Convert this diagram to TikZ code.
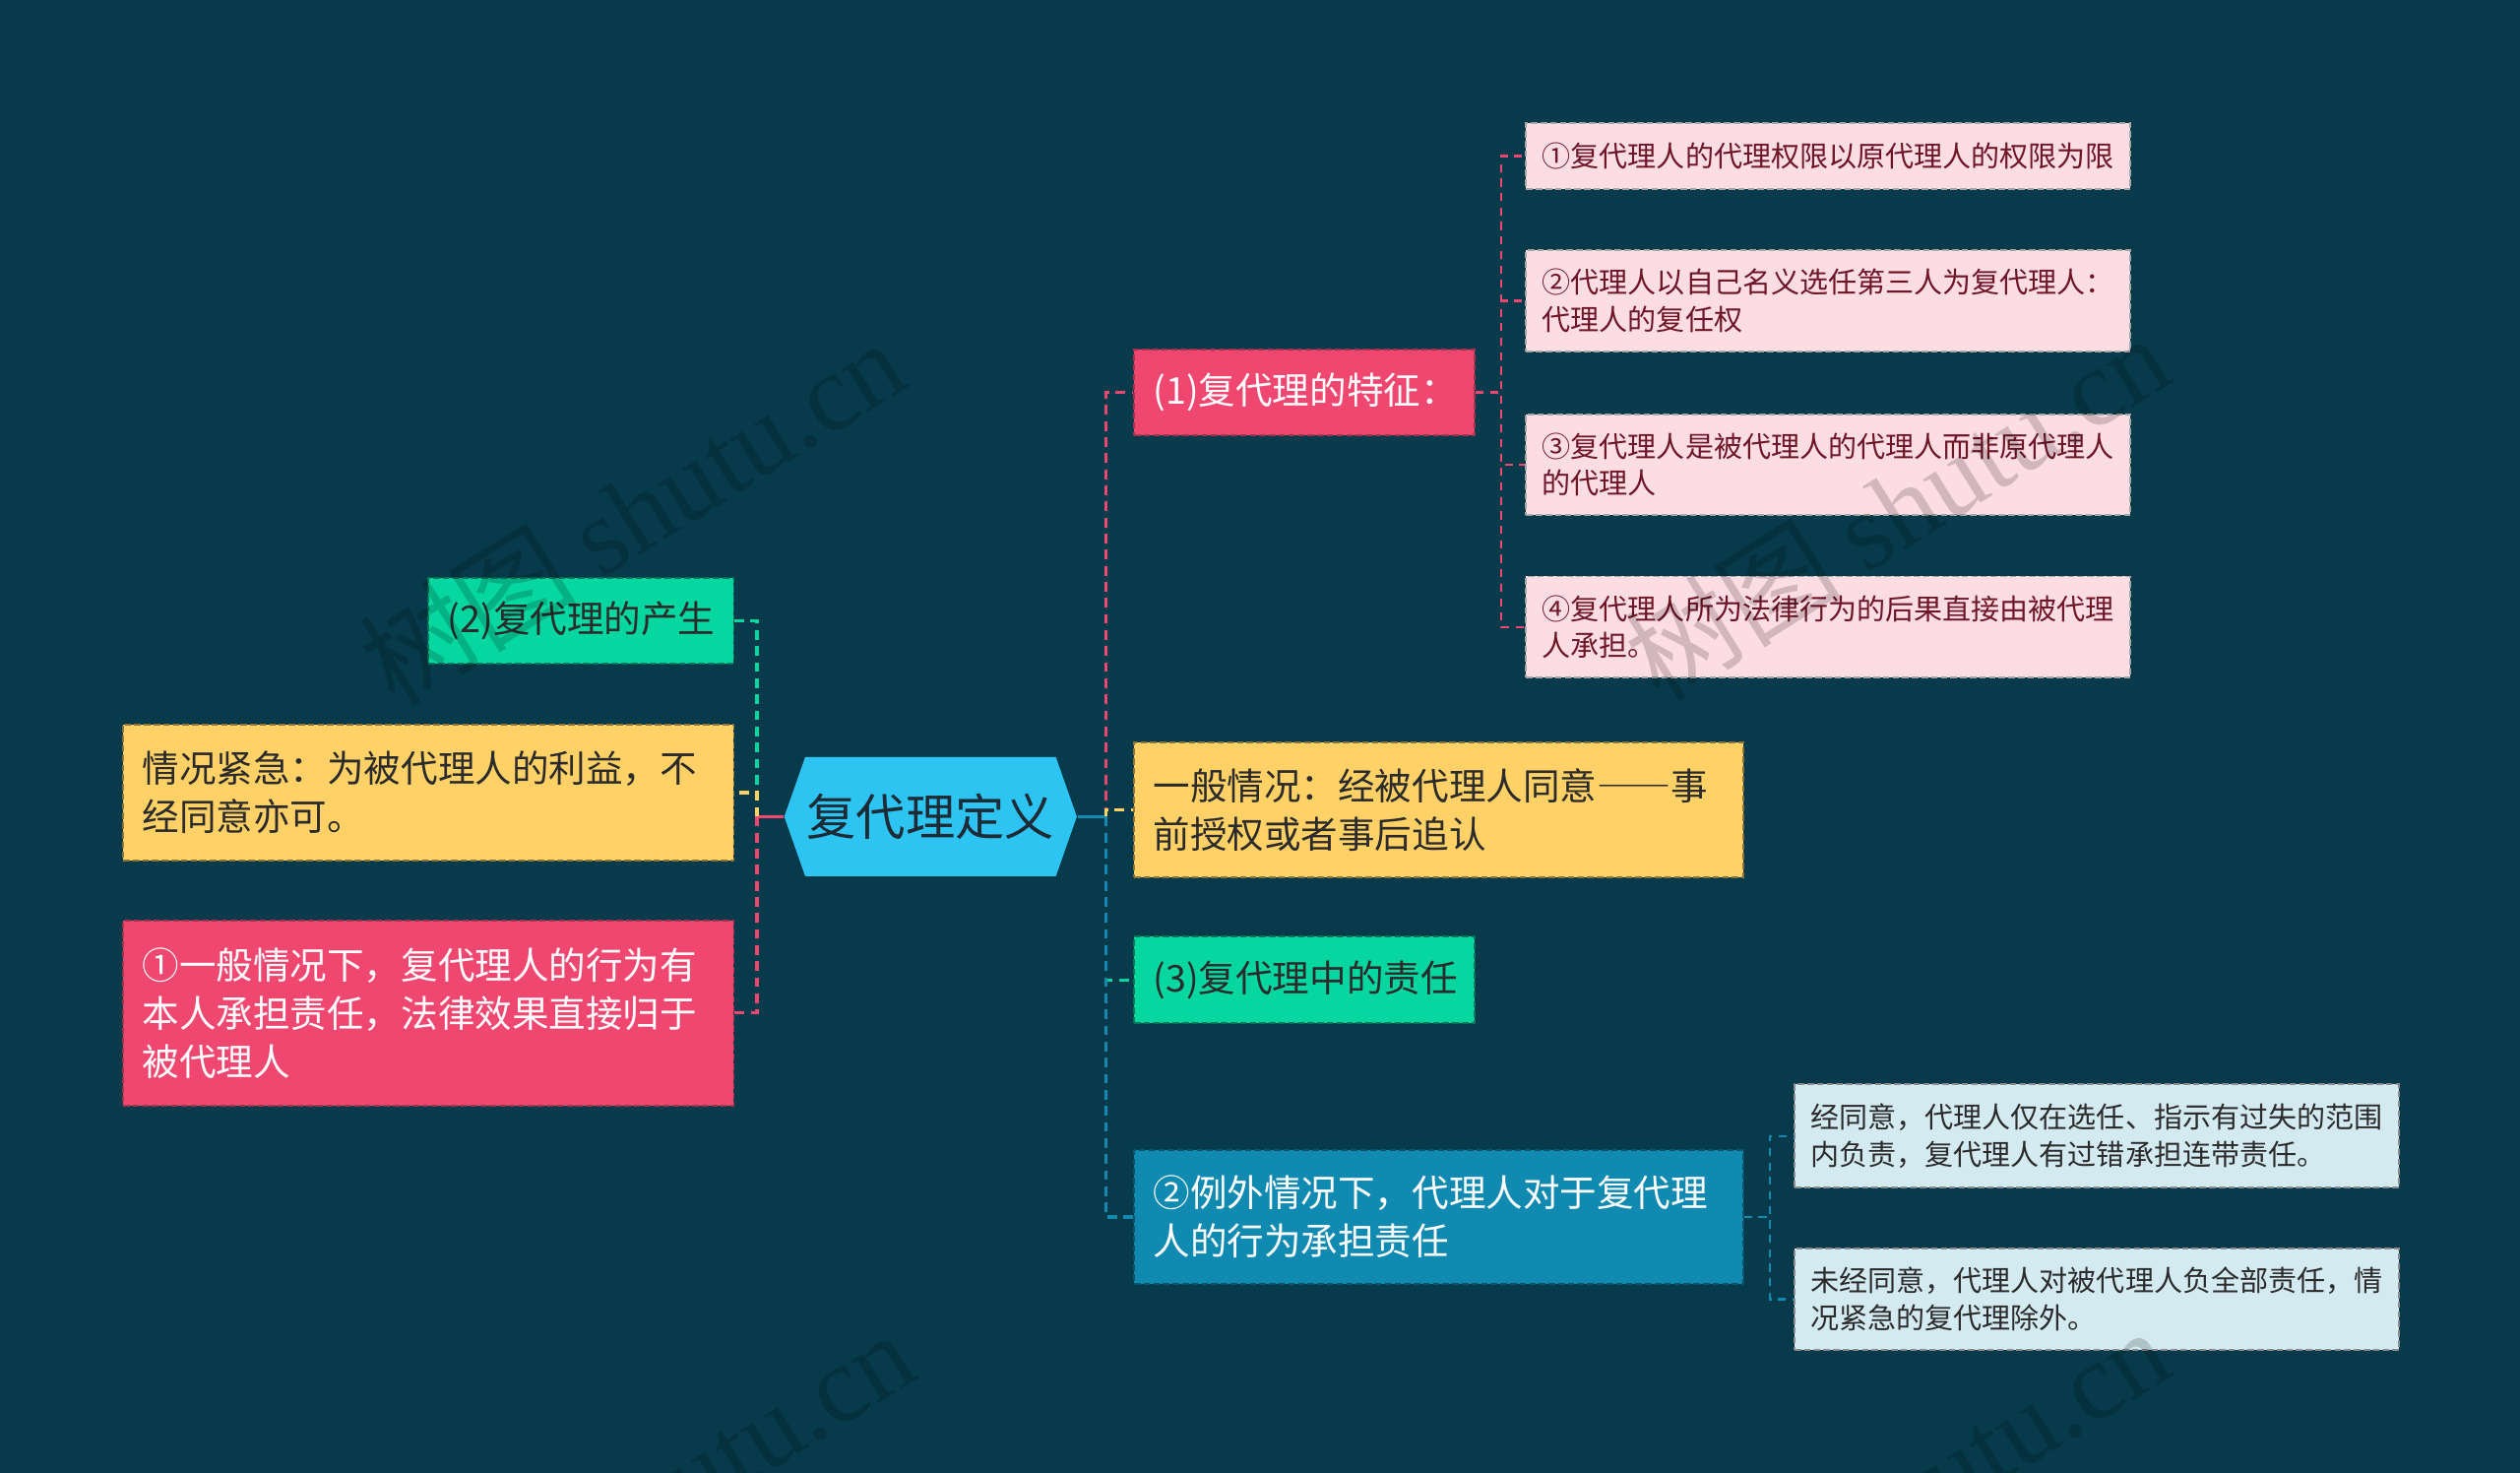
\documentclass[tikz,border=0pt]{standalone}
\usepackage{fontspec}
\setmainfont{Noto Sans CJK SC}
\newfontfamily\wmfont{Liberation Serif}
\newfontfamily\fwfont[RawFeature=+fwid]{Noto Sans CJK SC}
\usetikzlibrary{calc}
\definecolor{bgc}{HTML}{073B4C}
\definecolor{cred}{HTML}{EF476F}
\definecolor{cyel}{HTML}{FFD166}
\definecolor{cgrn}{HTML}{06D6A0}
\definecolor{cblu}{HTML}{118AB2}
\definecolor{croot}{HTML}{2EC4F2}
\definecolor{cpink}{HTML}{FCDDE4}
\definecolor{clblu}{HTML}{D3EAF1}
\definecolor{tdark}{HTML}{2B2B2B}
\definecolor{troot}{HTML}{1C2B36}
\definecolor{tmaroon}{HTML}{6E1526}
\begin{document}
\begin{tikzpicture}[x=0.5pt,y=-0.5pt,
  box/.style={draw, dash pattern=on 2pt off 1pt, line width=0.6pt, anchor=north west,
    inner xsep=6pt, inner ysep=0pt, align=left, font=\fontsize{11.5}{15}\selectfont},
  small/.style={inner xsep=5pt, font=\fontsize{8.9}{11.5}\selectfont},
  redbox/.style={box, fill=cred, draw=cred!70!black, text=white},
  yelbox/.style={box, fill=cyel, draw=cyel!55!black, text=tdark},
  grnbox/.style={box, fill=cgrn, draw=cgrn!55!black, text=tdark},
  blubox/.style={box, fill=cblu, draw=cblu!60!black, text=white},
  pinkbox/.style={box, small, fill=cpink, draw=black!35, text=tmaroon},
  lbbox/.style={box, small, fill=clblu, draw=black!45, text=tdark},
  conn/.style={line width=1pt, dash pattern=on 3pt off 2pt},
  subconn/.style={line width=0.7pt, dash pattern=on 2.5pt off 2pt},
  wm/.style={text=black, opacity=0.17, font=\fontsize{34}{34}\selectfont, inner sep=0pt}
]
\useasboundingbox (0,0) rectangle (1568,916);
\fill[bgc] (0,0) rectangle (1568,916);

% root hexagon
\coordinate (rc) at (579,508);
\fill[croot] ($(rc)+(-91,0)$) -- ($(rc)+(-78,-37)$) -- ($(rc)+(78,-37)$) -- ($(rc)+(91,0)$)
  -- ($(rc)+(78,37)$) -- ($(rc)+(-78,37)$) -- cycle;
\node[minimum width=91pt, minimum height=37pt, inner sep=0pt, text=troot,
  font=\fontsize{15.4}{16}\selectfont] (root) at (rc) {复代理定义};

% right level 1
\node[redbox, minimum width=106pt, minimum height=26.5pt, text width=94pt] (r1) at (705,217) {(1)复代理的特征：};
\node[yelbox, minimum width=189.5pt, minimum height=42pt, text width=177.5pt] (r2) at (705,461) {一般情况：经被代理人同意{\fwfont ——}事\\前授权或者事后追认};
\node[grnbox, minimum width=106pt, minimum height=27pt, text width=94pt] (r3) at (705,582) {(3)复代理中的责任};
\node[blubox, minimum width=189.5pt, minimum height=41.5pt, text width=177.5pt] (r4) at (705,715) {②例外情况下，代理人对于复代理\\人的行为承担责任};

% pink children
\node[pinkbox, minimum width=188pt, minimum height=20.5pt, text width=178pt] (p1) at (949,76) {①复代理人的代理权限以原代理人的权限为限};
\node[pinkbox, minimum width=188pt, minimum height=31.5pt, text width=178pt] (p2) at (949,155) {②代理人以自己名义选任第三人为复代理人：\\代理人的复任权};
\node[pinkbox, minimum width=188pt, minimum height=31.5pt, text width=178pt] (p3) at (949,257) {③复代理人是被代理人的代理人而非原代理人\\的代理人};
\node[pinkbox, minimum width=188pt, minimum height=31.5pt, text width=178pt] (p4) at (949,358) {④复代理人所为法律行为的后果直接由被代理\\人承担。};

% light blue children
\node[lbbox, minimum width=188pt, minimum height=32pt, text width=178pt] (b1) at (1116,674) {经同意，代理人仅在选任、指示有过失的范围\\内负责，复代理人有过错承担连带责任。};
\node[lbbox, minimum width=188pt, minimum height=31.5pt, text width=178pt] (b2) at (1116,776) {未经同意，代理人对被代理人负全部责任，情\\况紧急的复代理除外。};

% left level 1
\node[grnbox, minimum width=95pt, minimum height=26.5pt, text width=83pt] (l1) at (266,359) {(2)复代理的产生};
\node[yelbox, minimum width=190pt, minimum height=42.5pt, text width=178pt] (l2) at (76,450) {情况紧急：为被代理人的利益，不\\经同意亦可。};
\node[redbox, minimum width=190pt, minimum height=57.5pt, text width=178pt] (l3) at (76,572) {①一般情况下，复代理人的行为有\\本人承担责任，法律效果直接归于\\被代理人};

% right connectors
\coordinate (rt) at (688,508);
\draw[cblu, line width=1pt] (root.east) -- (rt);
\draw[conn, cred] (rt) |- (r1.west);
\draw[conn, cyel] (rt) |- (r2.west);
\draw[conn, cgrn] (rt) |- (r3.west);
\draw[conn, cblu] (rt) |- (r4.west);

% left connectors
\coordinate (lt) at (471,508);
\draw[cred, line width=1pt] (root.west) -- (lt);
\draw[conn, cgrn] (lt) |- (l1.east);
\draw[conn, cyel] (lt) |- (l2.east);
\draw[conn, cred] (lt) |- (l3.east);

% sub connectors
\coordinate (st1) at ($(r1.east)+(16,0)$);
\foreach \n in {p1,p2,p3,p4} \draw[subconn, cred] (r1.east) -- (st1) |- (\n.west);
\coordinate (st4) at ($(r4.east)+(16,0)$);
\foreach \n in {b1,b2} \draw[subconn, cblu] (r4.east) -- (st4) |- (\n.west);

% watermarks
\node[wm, rotate=32] (wm1) at (393,318) {树图 {\wmfont shutu.cn}};
\node[wm, rotate=32] (wm2) at (1180,315) {树图 {\wmfont shutu.cn}};
\node[wm, rotate=32] (wm3) at (399,935) {树图 {\wmfont shutu.cn}};
\node[wm, rotate=32] (wm4) at (1180,933) {树图 {\wmfont shutu.cn}};
\end{tikzpicture}
\end{document}
